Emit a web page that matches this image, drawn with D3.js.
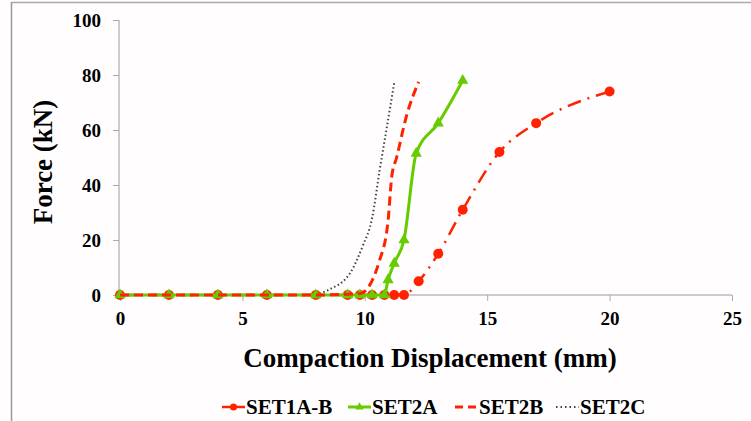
<!DOCTYPE html>
<html>
<head>
<meta charset="utf-8">
<script src="https://cdn.jsdelivr.net/npm/d3@7"></script>
<style>
  body { margin: 0; background: #fffdfe; }
  svg { display: block; }
</style>
</head>
<body>
<div id="chart"></div>
<script>
// series data (displacement mm, force kN)
const set1ab = [[0,0],[2,0],[4,0],[6,0],[8,0],[9.3,0],[9.8,0],[10.3,0],[10.8,0],[11.2,0],[11.6,0],
  [12.2,5],[13,15],[14,31],[15.5,52],[17,62.5],[20,74]];
const set2a = [[0,0],[2,0],[4,0],[6,0],[8,0],[9.3,0],[9.8,0],[10.3,0],[10.8,0],
  [10.95,5.5],[11.2,11.5],[11.6,20],[12.1,51.5],[13,62.5],[14,78]];
const set2b = [[0,0],[2,0],[4,0],[6,0],[8,0],[9.8,0.5],[10.6,12.5],[10.95,27],[11.1,43],[11.3,50],
  [11.7,65],[12.2,77.5]];
const set2c = [[8,0],[8.5,1.8],[9.4,8],[9.9,17.5],[10.3,28],[10.6,45],[10.9,61],[11.2,77]];
const xTicks = [0, 5, 10, 15, 20, 25];
const yTicks = [0, 20, 40, 60, 80, 100];
const seriesNames = ["SET1A-B", "SET2A", "SET2B", "SET2C"];

const FONT = "'Liberation Serif', 'Times New Roman', Times, 'DejaVu Serif', serif";
const W = 751, H = 421;
const svg = d3.select("#chart").append("svg").attr("width", W).attr("height", H)
  .attr("font-family", FONT).attr("font-weight", "bold");

// frame
svg.append("line").attr("x1", 11).attr("x2", W).attr("y1", 2.5).attr("y2", 2.5)
  .attr("stroke", "#aaa").attr("stroke-width", 1.5);
svg.append("line").attr("x1", 11.5).attr("x2", 11.5).attr("y1", 2).attr("y2", H)
  .attr("stroke", "#999").attr("stroke-width", 1.5);

const x = d3.scaleLinear().domain([0, 25]).range([120, 732]);
const y = d3.scaleLinear().domain([0, 100]).range([295, 20]);

// axes
const gx = svg.append("g").attr("transform", "translate(0,295)")
  .call(d3.axisBottom(x).tickValues(xTicks).tickSize(6).tickPadding(11));
const gy = svg.append("g").attr("transform", "translate(119,0)")
  .call(d3.axisLeft(y).tickValues(yTicks).tickSize(6).tickPadding(12));
svg.selectAll("g").attr("font-family", null);
svg.selectAll(".tick text").style("font-size", "19px").style("font-family", FONT)
  .style("font-weight", "bold").attr("fill", "#000");
svg.selectAll(".domain").attr("stroke", "#bbb").attr("stroke-width", 1.5);
svg.selectAll(".tick line").attr("stroke", "#aaa");
gx.select(".domain").attr("d", "M120,0H732");
gy.select(".domain").attr("d", "M0,20V295");

svg.append("text").attr("x", 430).attr("y", 367).attr("text-anchor", "middle")
  .style("font-size", "27px").style("font-family", FONT).text("Compaction Displacement  (mm)");
svg.append("text").attr("transform", "translate(52,162) rotate(-90)").attr("text-anchor", "middle")
  .style("font-size", "27px").style("font-family", FONT).text("Force  (kN)");

const red = "#ff2200", green = "#66cc00", grey = "#444";
const line = d3.line().x(d => x(d[0])).y(d => y(d[1])).curve(d3.curveMonotoneX);

// draw order: SET1A-B behind
svg.append("path").datum(set1ab).attr("d", line).attr("fill", "none")
  .attr("stroke", red).attr("stroke-width", 2.5).attr("stroke-dasharray", "14,7,2,7");
svg.append("path").datum(set2c).attr("d", line).attr("fill", "none")
  .attr("stroke", grey).attr("stroke-width", 2).attr("stroke-dasharray", "1.5,2.5");
svg.selectAll(".c1").data(set1ab).enter().append("circle")
  .attr("cx", d => x(d[0])).attr("cy", d => y(d[1])).attr("r", 5).attr("fill", red);
svg.append("path").datum(set2a).attr("d", line).attr("fill", "none")
  .attr("stroke", green).attr("stroke-width", 3);
const tri = d3.symbol().type(d3.symbolTriangle).size(55);
svg.selectAll(".t2").data(set2a).enter().append("path")
  .attr("d", tri).attr("transform", d => `translate(${x(d[0])},${y(d[1])})`).attr("fill", green);
svg.append("path").datum(set2b).attr("d", line).attr("fill", "none")
  .attr("stroke", red).attr("stroke-width", 3).attr("stroke-dasharray", "9,5");

// legend
const lg = [
  { x: 222, color: red, dash: null, w: 2.5, marker: "circle" },
  { x: 348, color: green, dash: null, w: 3, marker: "tri" },
  { x: 455, color: red, dash: "8,5", w: 3, marker: null },
  { x: 556, color: grey, dash: "1.5,3", w: 2, marker: null }
];
lg.forEach((o, i) => {
  const g = svg.append("g").attr("transform", `translate(${o.x},407)`);
  g.append("line").attr("x1", 0).attr("x2", 23).attr("stroke", o.color)
    .attr("stroke-width", o.w).attr("stroke-dasharray", o.dash);
  if (o.marker === "circle") g.append("circle").attr("cx", 11.5).attr("r", 3.5).attr("fill", o.color);
  if (o.marker === "tri") g.append("path").attr("d", d3.symbol().type(d3.symbolTriangle).size(30))
    .attr("transform", "translate(11.5,0)").attr("fill", o.color);
  g.append("text").attr("x", 24).attr("y", 7).style("font-size", "21px")
    .style("font-family", FONT).text(seriesNames[i]);
});
</script>
</body>
</html>
